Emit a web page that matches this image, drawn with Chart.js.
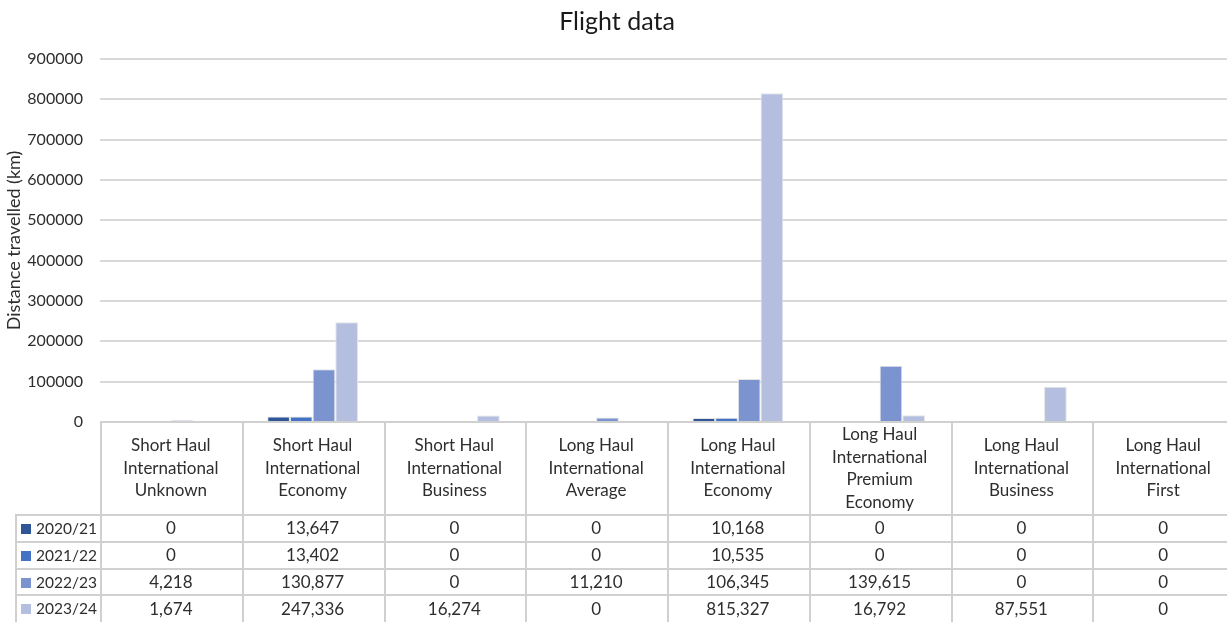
<!DOCTYPE html>
<html>
<head>
<meta charset="utf-8">
<title>Flight data</title>
<script src="https://cdn.jsdelivr.net/npm/chart.js@4.4.1/dist/chart.umd.min.js"></script>
<style>
  html, body { margin: 0; padding: 0; background: #ffffff; overflow: hidden; }
  #chart { display: block; }
</style>
</head>
<body>
<canvas id="chart" width="1234" height="622"></canvas>
<script>
// Flight categories (multi-line header labels for the data table)
const categories = [
  ["Short Haul", "International", "Unknown"],
  ["Short Haul", "International", "Economy"],
  ["Short Haul", "International", "Business"],
  ["Long Haul", "International", "Average"],
  ["Long Haul", "International", "Economy"],
  ["Long Haul", "International", "Premium", "Economy"],
  ["Long Haul", "International", "Business"],
  ["Long Haul", "International", "First"]
];

// Distance travelled (km) per financial year
const seriesNames = ["2020/21", "2021/22", "2022/23", "2023/24"];
const km2020_21 = [0, 13647, 0, 0, 10168, 0, 0, 0];
const km2021_22 = [0, 13402, 0, 0, 10535, 0, 0, 0];
const km2022_23 = [4218, 130877, 0, 11210, 106345, 139615, 0, 0];
const km2023_24 = [1674, 247336, 16274, 0, 815327, 16792, 87551, 0];
const seriesColors = ["#2F5597", "#4472C4", "#7B93CF", "#B4BFDF"];

// Value axis
const yMax = 900000;
const yStep = 100000;

const seriesValues = [km2020_21, km2021_22, km2022_23, km2023_24];

const FONT = "Lato, 'Open Sans', sans-serif";
const TEXT = "#2E2E2E";
const LINE = "#D0D0D0";

// Data table drawn beneath the plot, aligned with the category scale
const dataTable = {
  id: "dataTable",
  afterDraw(chart) {
    const ctx = chart.ctx;
    const x = chart.scales.x;
    const area = chart.chartArea;
    const n = categories.length;
    const colW = (x.right - x.left) / n;
    const top = Math.round(area.bottom);
    const bottom = chart.height;
    const headerH = 93;
    const rowH = 26.8;
    const legendLeft = 16;
    const rowsTop = top + headerH;

    ctx.save();
    ctx.strokeStyle = LINE;
    ctx.lineWidth = 2;

    // horizontal rules
    ctx.beginPath();
    ctx.moveTo(x.left, top);
    ctx.lineTo(x.right, top);
    for (let r = 0; r < seriesNames.length; r++) {
      const y = Math.round(rowsTop + r * rowH);
      ctx.moveTo(legendLeft - 1, y);
      ctx.lineTo(x.right, y);
    }
    // vertical rules
    for (let i = 0; i <= n; i++) {
      const xx = Math.round(x.left + i * colW) + 1;
      ctx.moveTo(xx, top - 1);
      ctx.lineTo(xx, bottom);
    }
    ctx.moveTo(legendLeft, rowsTop);
    ctx.lineTo(legendLeft, bottom);
    ctx.stroke();

    // header labels
    ctx.fillStyle = TEXT;
    ctx.font = "17px " + FONT;
    ctx.textAlign = "center";
    ctx.textBaseline = "middle";
    const lh = 22.5;
    const headMid = top + headerH / 2;
    categories.forEach((lines, i) => {
      const cx = x.getPixelForValue(i);
      const y0 = headMid - (lines.length - 1) * lh / 2;
      lines.forEach((t, k) => ctx.fillText(t, cx, y0 + k * lh));
    });

    // series rows: legend key, name, values
    seriesNames.forEach((name, r) => {
      const cy = rowsTop + r * rowH + rowH / 2 + 0.5;
      ctx.fillStyle = seriesColors[r];
      ctx.fillRect(21, Math.round(cy - 5), 10, 10);
      ctx.fillStyle = TEXT;
      ctx.textAlign = "left";
      ctx.font = "15.5px " + FONT;
      ctx.fillText(name, 36, cy);
      ctx.textAlign = "center";
      ctx.font = "17px " + FONT;
      seriesValues[r].forEach((v, i) => {
        ctx.fillText(v.toLocaleString("en-US"), x.getPixelForValue(i), cy);
      });
    });
    ctx.restore();
  }
};

new Chart(document.getElementById("chart"), {
  type: "bar",
  data: {
    labels: categories,
    datasets: seriesNames.map((name, i) => ({
      label: name,
      data: seriesValues[i],
      backgroundColor: seriesColors[i],
      borderColor: "#E4E4E4",
      borderWidth: 1,
      categoryPercentage: 0.64,
      barPercentage: 1.0
    }))
  },
  options: {
    responsive: false,
    animation: false,
    devicePixelRatio: 1,
    layout: { padding: 0 },
    plugins: {
      legend: { display: false },
      tooltip: { enabled: false },
      title: {
        display: true,
        text: "Flight data",
        color: "#1A1A1A",
        font: { family: FONT, size: 25, weight: "normal" },
        padding: { top: 7, bottom: 22 }
      }
    },
    scales: {
      x: {
        ticks: { display: false },
        grid: { display: false },
        border: { display: false },
        afterFit(scale) { scale.height = 200; }
      },
      y: {
        min: 0,
        max: yMax,
        ticks: {
          stepSize: yStep,
          padding: 17,
          color: TEXT,
          font: { family: FONT, size: 16 },
          callback: (v) => String(v)
        },
        grid: { color: "#D9D9D9", lineWidth: 2, drawTicks: false },
        border: { display: false },
        title: {
          display: true,
          text: "Distance travelled (km)",
          color: TEXT,
          font: { family: FONT, size: 18 },
          padding: { top: 3, bottom: 0 }
        },
        afterFit(scale) { scale.width = 100; }
      }
    }
  },
  plugins: [dataTable]
});
</script>
</body>
</html>
